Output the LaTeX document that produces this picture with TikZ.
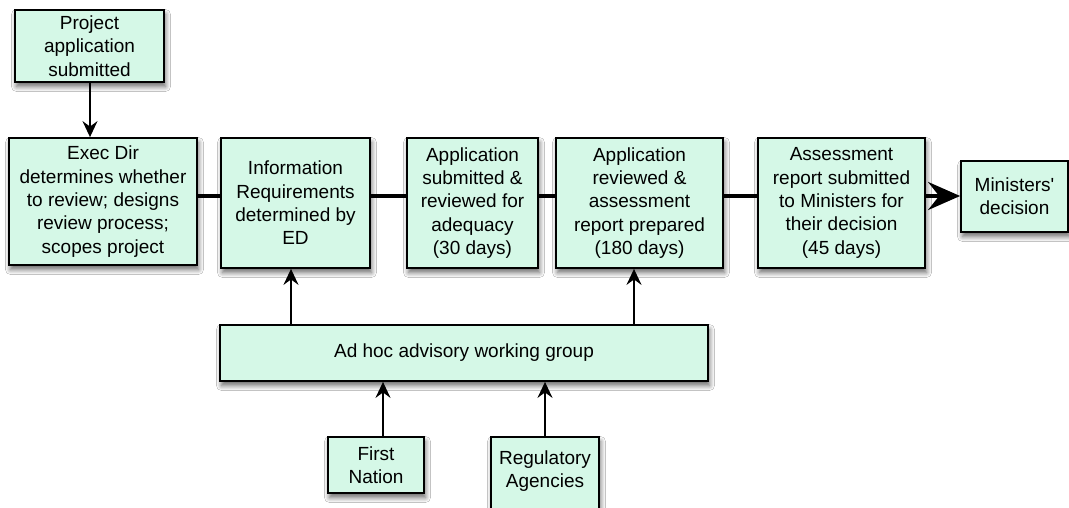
\documentclass[tikz,border=0pt]{standalone}
\usepackage{fontspec}
\setmainfont{Liberation Sans}[Ligatures=TeXOff]
\usetikzlibrary{arrows.meta,shadows.blur}
\definecolor{mint}{RGB}{213,248,231}
\tikzset{
  box/.style={draw=black, line width=1.8pt, fill=mint, align=center, inner sep=2pt,
    font=\fontsize{19pt}{23.3pt}\selectfont,
    blur shadow={shadow xshift=1.5pt, shadow yshift=-4.5pt, shadow blur radius=5pt, shadow blur steps=8, shadow opacity=60}},
  flow/.style={line width=3.5pt},
  up/.style={line width=1.8pt, -{Stealth[length=16pt, width=15pt, inset=5.5pt]}},
  bigarrow/.style={line width=3.5pt, -{Stealth[length=32pt, width=28pt, inset=11pt]}}
}
\begin{document}
\begin{tikzpicture}[x=1pt, y=-1pt]
\useasboundingbox[fill=white] (0,0) rectangle (1069,508);
\node[box, minimum width=149pt, minimum height=72pt] (proj) at (89.5,46) {Project\\application\\submitted};
\node[box, minimum width=188pt, minimum height=127pt] (exec) at (103,201.5) {Exec Dir\\determines whether\\to review; designs\\review process;\\scopes project};
\node[box, minimum width=149pt, minimum height=130pt] (info) at (295.5,203) {Information\\Requirements\\determined by\\ED};
\node[box, minimum width=131pt, minimum height=130pt] (adeq) at (472.5,203) {Application\\submitted \&\\reviewed for\\adequacy\\(30 days)};
\node[box, minimum width=167pt, minimum height=130pt] (prep) at (639.5,203) {Application\\reviewed \&\\assessment\\report prepared\\(180 days)};
\node[box, minimum width=167pt, minimum height=130pt] (subm) at (841.5,203) {Assessment\\report submitted\\to Ministers for\\their decision\\(45 days)};
\node[box, minimum width=107pt, minimum height=71pt] (mins) at (1014.5,196.5) {Ministers'\\decision};
\node[box, minimum width=488pt, minimum height=56pt] (adhoc) at (464,353) {Ad hoc advisory working group};
\node[box, minimum width=96pt, minimum height=56pt] (fn) at (376,465) {First\\Nation};
\node[box, minimum width=108pt, minimum height=90pt, text depth=0pt] (reg) at (545,482) {Regulatory\\Agencies\\[2pt]};

\draw[up] (proj.south -| 90,0) -- (exec.north -| 90,0);
\draw[flow] (exec.east |- 0,196) -- (info.west |- 0,196);
\draw[flow] (info.east |- 0,196) -- (adeq.west |- 0,196);
\draw[flow] (adeq.east |- 0,196) -- (prep.west |- 0,196);
\draw[flow] (prep.east |- 0,196) -- (subm.west |- 0,196);
\draw[bigarrow] (subm.east |- 0,196) -- (mins.west |- 0,196);
\draw[up] (adhoc.north -| 291,0) -- (info.south -| 291,0);
\draw[up] (adhoc.north -| 634,0) -- (prep.south -| 634,0);
\draw[up] (fn.north -| 383,0) -- (adhoc.south -| 383,0);
\draw[up] (reg.north -| 545,0) -- (adhoc.south -| 545,0);
\end{tikzpicture}
\end{document}
